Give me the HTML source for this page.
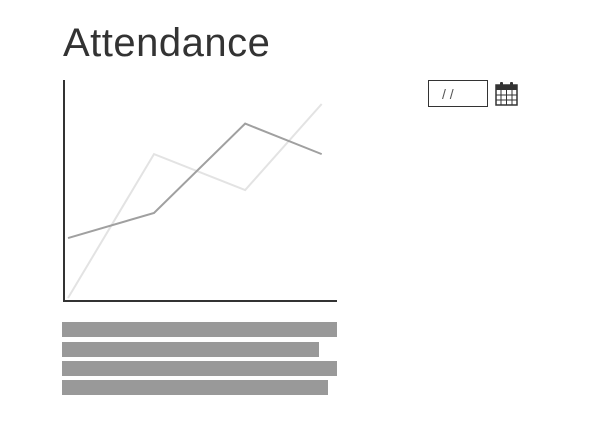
<!DOCTYPE html>
<html><head><meta charset="utf-8"><style>
body{margin:0;width:596px;height:421px;background:#fff;font-family:"Liberation Sans",sans-serif;position:relative;overflow:hidden}
.t{position:absolute;left:63px;top:21px;font-size:40px;color:#333;margin:0;font-weight:normal;letter-spacing:0.5px}
.bar{position:absolute;left:62px;height:15px;background:#999}
.date{position:absolute;left:428px;top:80px;width:60px;height:27px;border:1px solid #333;box-sizing:border-box;font-size:14px;color:#555;padding-left:13px;line-height:26px}
</style></head><body>
<h1 class="t">Attendance</h1>
<svg id="chart" width="596" height="320" style="position:absolute;left:0;top:0"></svg>
<div class="date">/ /</div>
<svg style="position:absolute;left:495px;top:81px" width="23" height="25" viewBox="0 0 23 25">
<rect x="1" y="4" width="21" height="20" fill="none" stroke="#333" stroke-width="1.5"/>
<rect x="1" y="4" width="21" height="5" fill="#333"/>
<rect x="5" y="1" width="3" height="6" rx="1" fill="#333"/><rect x="15" y="1" width="3" height="6" rx="1" fill="#333"/>
<path d="M6 9V24M11.5 9V24M17 9V24M1 14H22M1 19H22" stroke="#333" stroke-width="1"/>
</svg>
<div class="bar" style="top:322px;width:275px"></div>
<div class="bar" style="top:342px;width:257px"></div>
<div class="bar" style="top:361px;width:275px"></div>
<div class="bar" style="top:380px;width:266px"></div>
<script>
const xDays = [0, 10, 20.6, 29.5];
const seriesLight = [0, 66, 49.5, 89];
const seriesDark = [27.5, 39, 80, 66];
const svg = document.getElementById('chart');
const NS = 'http://www.w3.org/2000/svg';
const x = d => 68 + d * 8.6;
const y = v => 298 - v * 2.18;
function line(x1,y1,x2,y2,name){
  const l=document.createElementNS(NS,'line');
  l.setAttribute('x1',x1);l.setAttribute('y1',y1);l.setAttribute('x2',x2);l.setAttribute('y2',y2);
  l.setAttribute('stroke','#333');l.setAttribute('stroke-width','2');
  
  
  svg.appendChild(l);
}
line(64,80,64,302,'y-axis');
line(63,301,337,301,'x-axis');
function series(vals,color,name){
  const p=document.createElementNS(NS,'polyline');
  p.setAttribute('points',vals.map((v,i)=>x(xDays[i])+','+y(v)).join(' '));
  p.setAttribute('fill','none');p.setAttribute('stroke',color);p.setAttribute('stroke-width','2');
  
  
  svg.appendChild(p);
}
series(seriesLight,'#e3e3e3','series-light');
series(seriesDark,'#a0a0a0','series-dark');
</script>
</body></html>
